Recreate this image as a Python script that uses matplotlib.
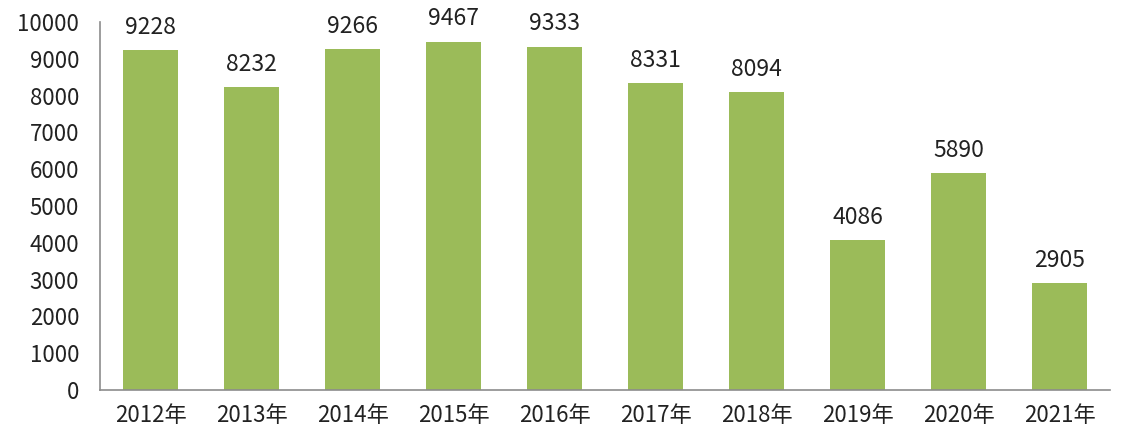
import matplotlib as mpl
mpl.use("Agg")
import matplotlib.pyplot as plt
import numpy as np

plt.rcParams['font.family'] = ['Noto Sans CJK SC', 'DejaVu Sans']

years = ["2012年", "2013年", "2014年", "2015年", "2016年",
         "2017年", "2018年", "2019年", "2020年", "2021年"]
values = [9228, 8232, 9266, 9467, 9333, 8331, 8094, 4086, 5890, 2905]

fig = plt.figure(figsize=(11.46, 4.44), dpi=100)
ax = fig.add_axes([0.0873, 0.1216, 0.8813, 0.8289])

x = np.arange(len(years))
bars = ax.bar(x, values, width=0.55, color="#9BBB59")

for xi, v in zip(x, values):
    ax.annotate(str(v), (xi, v), xytext=(0, 8), textcoords="offset points",
                ha="center", va="bottom", fontsize=16.5, color="#222222")

ax.set_xlim(-0.5, len(years) - 0.5)
ax.set_ylim(0, 10000)
ax.set_yticks(range(0, 10001, 1000))
ax.set_xticks(x)
ax.set_xticklabels(years)
ax.tick_params(axis="both", length=0, labelsize=16, colors="#222222")
ax.tick_params(axis="x", pad=10)
ax.tick_params(axis="y", pad=15)

for s in ["top", "right"]:
    ax.spines[s].set_visible(False)
for s in ["left", "bottom"]:
    ax.spines[s].set_color("#8c8c8c")
    ax.spines[s].set_linewidth(1.2)

plt.savefig("out.png", dpi=100)
